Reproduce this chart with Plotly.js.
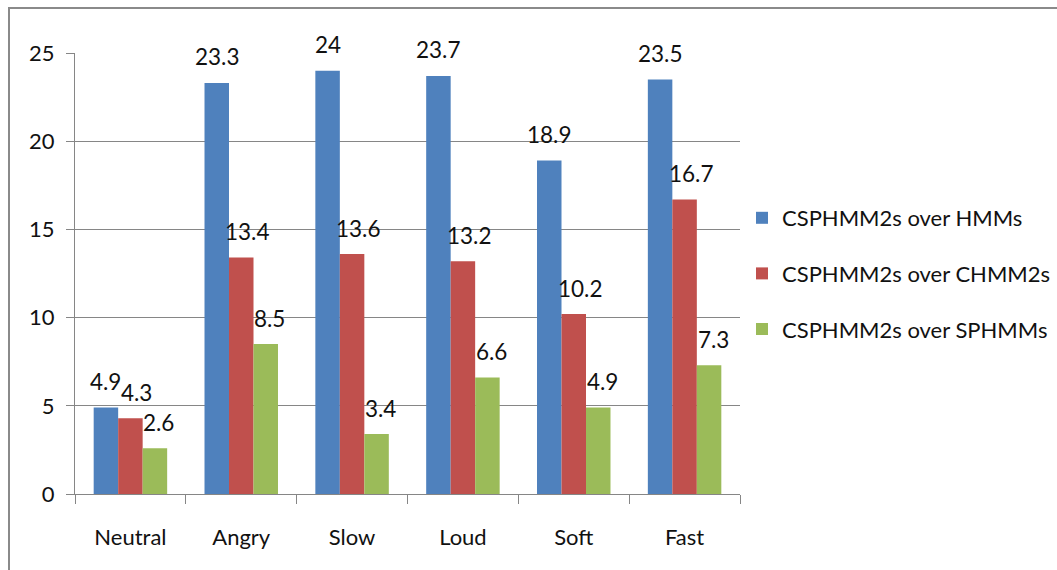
<!DOCTYPE html>
<html>
<head>
<meta charset="utf-8">
<script src="https://cdn.plot.ly/plotly-3.0.1.min.js"></script>
<style>html,body{margin:0;padding:0;background:#fff;}#chart{width:1057px;height:570px;}</style>
</head>
<body>
<div id="chart"></div>
<script>
const categories = ["Neutral", "Angry", "Slow", "Loud", "Soft", "Fast"];
const seriesNames = ["CSPHMM2s over HMMs", "CSPHMM2s over CHMM2s", "CSPHMM2s over SPHMMs"];
const overHMMs = [4.9, 23.3, 24, 23.7, 18.9, 23.5];
const overCHMM2s = [4.3, 13.4, 13.6, 13.2, 10.2, 16.7];
const overSPHMMs = [2.6, 8.5, 3.4, 6.6, 4.9, 7.3];
const yTicks = [0, 5, 10, 15, 20, 25];

const colors = ["#4F81BD", "#C0504D", "#9BBB59"];
const seriesValues = [overHMMs, overCHMM2s, overSPHMMs];
const FONT = "Lato, 'Liberation Sans', Arial, sans-serif";

const W = 1057, H = 570;
const margin = {l: 75, r: 317, t: 53, b: 76, autoexpand: false};
const plotW = W - margin.l - margin.r;
const plotH = H - margin.t - margin.b;
const bargap = 0.337;
const catPx = plotW / categories.length;
const barPx = catPx * (1 - bargap) / seriesValues.length;
const labelNudge = [0, 6, 4];

const traces = seriesValues.map((vals, i) => ({
  type: "bar",
  name: seriesNames[i],
  x: categories,
  y: vals,
  legendgroup: "g" + i,
  marker: {color: colors[i], line: {width: 0}},
  hoverinfo: "skip"
}));

const annotations = [];
seriesValues.forEach((vals, i) => {
  vals.forEach((v, j) => {
    annotations.push({
      x: categories[j], y: v, xref: "x", yref: "y",
      text: String(v), showarrow: false,
      xshift: (i - 1) * barPx + labelNudge[i], yshift: 26,
      font: {family: FONT, size: 22.5, color: "#111111"}
    });
  });
});

const px2x = p => (p - margin.l) / plotW;
const px2y = p => (H - margin.b - p) / plotH;

const layout = {
  width: W, height: H,
  margin: margin,
  paper_bgcolor: "#ffffff",
  plot_bgcolor: "#ffffff",
  barmode: "group",
  bargap: bargap,
  bargroupgap: 0,
  font: {family: FONT, size: 22, color: "#111111"},
  showlegend: true,
  legend: {
    x: 1.003, xanchor: "left", y: 0.5, yanchor: "middle",
    font: {family: FONT, size: 22, color: "#111111"},
    tracegroupgap: 24, itemwidth: 30,
    bgcolor: "rgba(0,0,0,0)"
  },
  xaxis: {
    type: "category",
    showgrid: false,
    showline: true, linecolor: "#868686", linewidth: 1,
    ticks: "outside", tickson: "boundaries", ticklen: 9, tickcolor: "#868686",
    ticklabelstandoff: 24,
    tickfont: {family: FONT, size: 22, color: "#111111"},
    fixedrange: true
  },
  yaxis: {
    range: [0, 25],
    tickvals: yTicks,
    showgrid: true, gridcolor: "#868686", gridwidth: 1,
    zeroline: false,
    showline: true, linecolor: "#868686", linewidth: 1,
    ticks: "outside", ticklen: 8, tickcolor: "#868686",
    ticklabelstandoff: 7,
    tickfont: {family: FONT, size: 22, color: "#111111"},
    fixedrange: true
  },
  annotations: annotations,
  shapes: [{
    type: "rect", xref: "paper", yref: "paper",
    x0: px2x(9), x1: px2x(W + 20), y0: px2y(H + 20), y1: px2y(8),
    line: {color: "#8a8a8a", width: 2}, fillcolor: "rgba(0,0,0,0)", layer: "below"
  }]
};

Plotly.newPlot("chart", traces, layout, {displayModeBar: false, staticPlot: true});
</script>
</body>
</html>
